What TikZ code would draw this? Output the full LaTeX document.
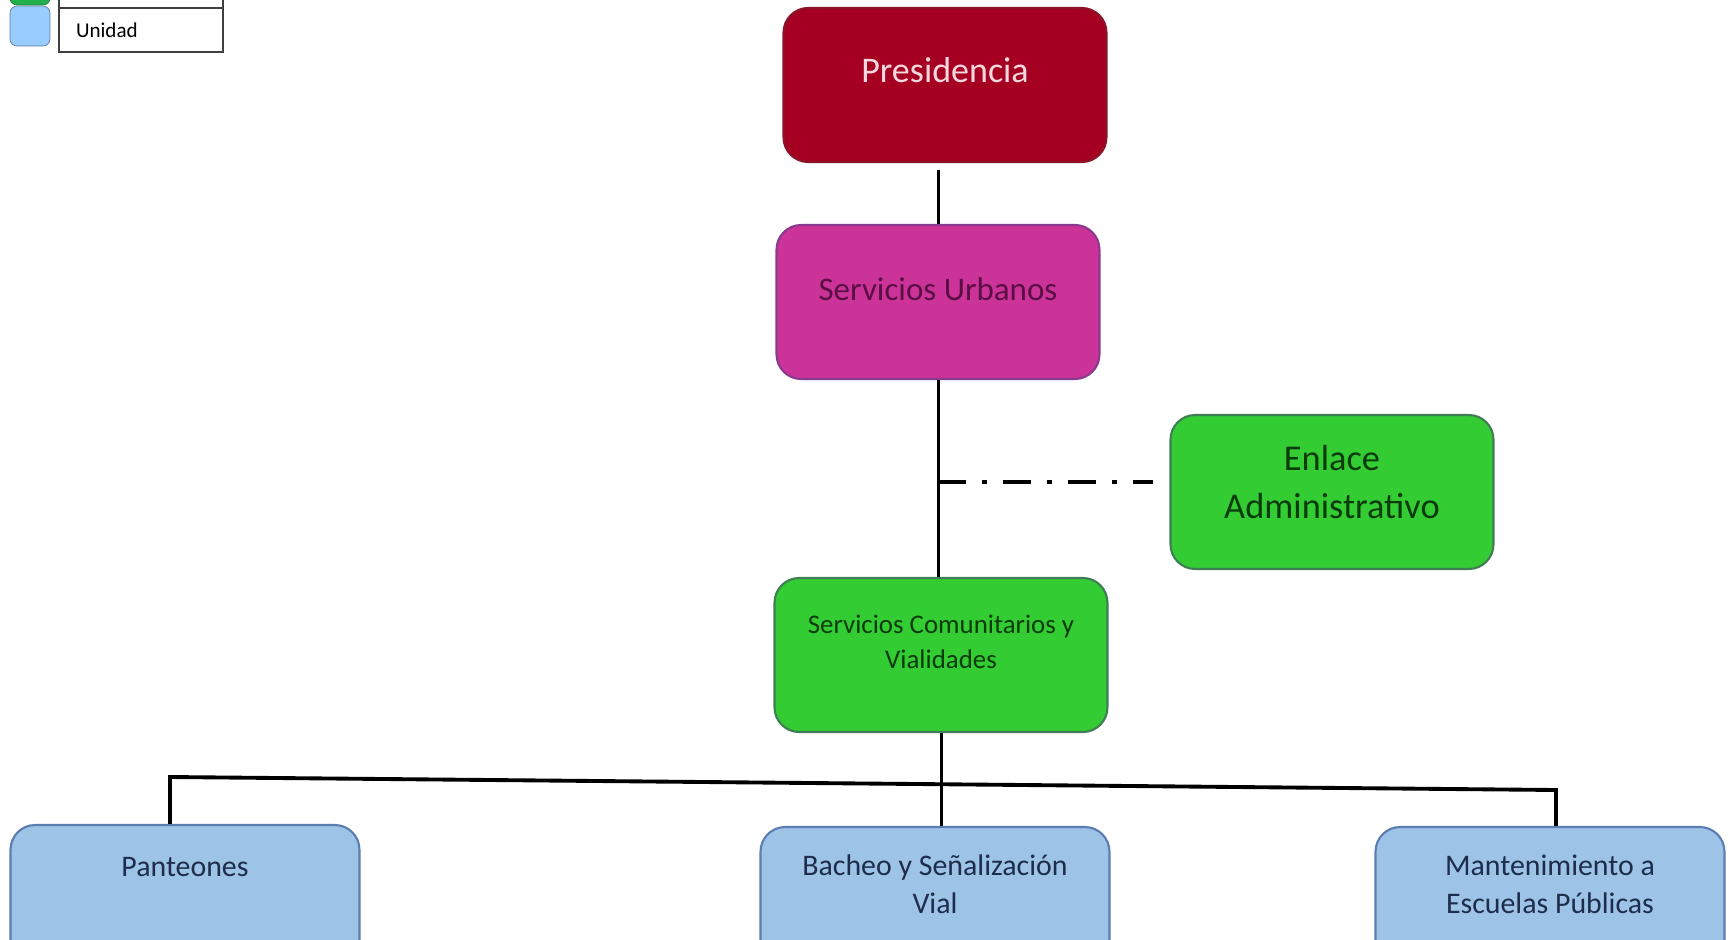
\documentclass[tikz,border=0pt]{standalone}
\usepackage{fontspec}
\setmainfont{Carlito}
\usepackage{tikz}
\usetikzlibrary{positioning,calc}
\usepackage{xcolor}
\definecolor{presfill}{HTML}{A50021}
\definecolor{presline}{HTML}{8A1428}
\definecolor{presink}{HTML}{F6D8DE}
\definecolor{urbfill}{HTML}{CC3399}
\definecolor{urbline}{HTML}{8A3A8E}
\definecolor{urbink}{HTML}{5A0E44}
\definecolor{dirfill}{HTML}{33CC33}
\definecolor{dirline}{HTML}{3F7D55}
\definecolor{dirink}{HTML}{0B3A0B}
\definecolor{unitfill}{HTML}{9DC3E6}
\definecolor{unitline}{HTML}{5B7DB1}
\definecolor{unitink}{HTML}{1E2D4C}
\definecolor{leggreen}{HTML}{22B14C}
\definecolor{legblue}{HTML}{99CCFF}

\begin{document}
\begin{tikzpicture}[x=0.02cm,y=-0.02cm,
  orgbox/.style={draw,rounded corners=14pt,line width=1.2pt,minimum width=6.46cm,minimum height=3.08cm,inner sep=0pt},
  unitbox/.style={orgbox,fill=unitfill,draw=unitline,minimum width=6.98cm},
  unittxt/.style={font=\fontsize{17}{21.5}\selectfont,text=unitink,align=center},
  conn/.style={line width=1.7pt,black},
  legcell/.style={draw=black!75,line width=1pt,minimum width=3.28cm,minimum height=0.88cm,inner xsep=0.34cm,text width=2.6cm,align=left,font=\fontsize{12}{14}\selectfont},
  legsq/.style={draw,rounded corners=4pt,minimum width=0.8cm,minimum height=0.8cm,inner sep=0pt}]
\useasboundingbox (0,0) rectangle (1729,940);
\clip (0,0) rectangle (1729,940);
% ---------- legend
\node[legsq,fill=leggreen,draw=leggreen!70!black] (legD) at (30,-15) {};
\node[legsq,fill=legblue,draw=legblue!60!black] (legU) at (30,26) {};
\node[legcell] (legDT) at (141,-14) {};
\node[legcell] (legUT) at (141,30) {Unidad};
% ---------- boxes
\node[orgbox,fill=presfill,draw=presline] (pres) at (945,85) {};
\node[font=\fontsize{20.5}{25}\selectfont,text=presink] (presT) at ($(pres.north)+(0,63)$) {Presidencia};
\node[orgbox,fill=urbfill,draw=urbline] (urb) at (938,302) {};
\node[font=\fontsize{18.8}{23}\selectfont,text=urbink] (urbT) at ($(urb.north)+(0,65)$) {Servicios Urbanos};
\node[orgbox,fill=dirfill,draw=dirline] (enl) at (1332,492) {};
\node[font=\fontsize{20.7}{27.2}\selectfont,text=dirink,align=center] (enlT) at ($(enl.center)+(0,-10)$) {Enlace\\Administrativo};
\node[orgbox,fill=dirfill,draw=dirline,minimum width=6.66cm] (scv) at (941,655) {};
\node[font=\fontsize{15.3}{19.8}\selectfont,text=dirink,align=center] (scvT) at ($(scv.north)+(0,65)$) {Servicios Comunitarios y\\Vialidades};
\node[unitbox] (pant) at (185,902) {};
\node[unittxt] (pantT) at ($(pant.north)+(0,43)$) {Panteones};
\node[unitbox] (bach) at (935,904) {};
\node[unittxt] (bachT) at ($(bach.north)+(0,58)$) {Bacheo y Señalización\\Vial};
\node[unitbox] (mant) at (1550,904) {};
\node[unittxt] (mantT) at ($(mant.north)+(0,58)$) {Mantenimiento a\\Escuelas Públicas};
% ---------- lines
\draw[conn,shorten <=0.14cm] (urb.north |- pres.south) -- (urb.north);
\draw[conn] (urb.south) -- (urb.south |- scv.north);
\coordinate (enlink) at ($(enl.west)+(-16,-10)$);
\draw[line width=2.6pt,dash pattern=on 0.56cm off 0.32cm on 0.1cm off 0.32cm] (enlink -| urb.south) -- (enlink);
\draw[conn] (scv.south) -- (scv.south |- bach.north);
\coordinate (barL) at (170,777);
\coordinate (barR) at (1556,790);
\draw[conn,line width=2.2pt] (pant.north -| barL) -- (barL) -- (barR) -- (barR |- mant.north);
\end{tikzpicture}
\end{document}
